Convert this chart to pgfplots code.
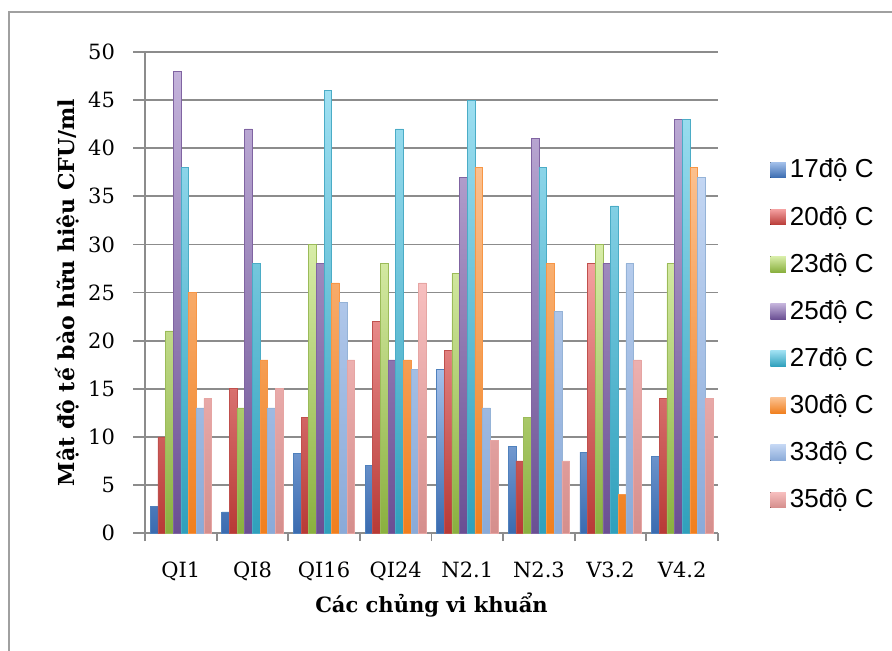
\documentclass[border=0pt]{standalone}
\usepackage{pgfplots}
\usepackage{pgfplotstable}
\pgfplotsset{compat=1.18}
\usepackage{fontspec}
\setmainfont{DejaVu Serif}
\newfontfamily\legfont{Liberation Sans}
\definecolor{gridc}{HTML}{8C8C8C}
\definecolor{framec}{HTML}{A0A0A0}
\definecolor{t1}{HTML}{A3C0EA}\definecolor{b1}{HTML}{3A6BB0}\definecolor{d1}{HTML}{4F81BD}
\definecolor{t2}{HTML}{F4A0A0}\definecolor{b2}{HTML}{B83A36}\definecolor{d2}{HTML}{C0504D}
\definecolor{t3}{HTML}{D8EDA8}\definecolor{b3}{HTML}{8AB03F}\definecolor{d3}{HTML}{9BBB59}
\definecolor{t4}{HTML}{C4B3DB}\definecolor{b4}{HTML}{6A4F93}\definecolor{d4}{HTML}{8064A2}
\definecolor{t5}{HTML}{9FE0F2}\definecolor{b5}{HTML}{2FA0BC}\definecolor{d5}{HTML}{4BACC6}
\definecolor{t6}{HTML}{FBC08E}\definecolor{b6}{HTML}{F07F1E}\definecolor{d6}{HTML}{F79646}
\definecolor{t7}{HTML}{C3D6F3}\definecolor{b7}{HTML}{8AAAD8}\definecolor{d7}{HTML}{95B3D7}
\definecolor{t8}{HTML}{F7BFBF}\definecolor{b8}{HTML}{D58E8C}\definecolor{d8}{HTML}{E6A5A3}
\pgfplotstableread{
x s17 s20 s23 s25 s27 s30 s33 s35
0 2.8 10 21 48 38 25 13 14
1 2.2 15 13 42 28 18 13 15
2 8.3 12 30 28 46 26 24 18
3 7.0 22 28 18 42 18 17 26
4 17 19 27 37 45 38 13 9.6
5 9 7.5 12 41 38 28 23 7.5
6 8.4 28 30 28 34 4 28 18
7 8.0 14 28 43 43 38 37 14
}\datatable
\begin{document}
\begin{tikzpicture}
\useasboundingbox (0,0) rectangle (446pt,325pt);
\begin{scope}
\clip (0,0) rectangle (446pt,325pt);
\draw[framec, line width=0.7pt] (4.5pt,-20pt) rectangle (480pt,319pt);
\end{scope}
\begin{axis}[
  at={(72.5pt,58.5pt)}, anchor=south west,
  width=286.5pt, height=240.5pt, scale only axis,
  ybar=0pt, bar width=0.107,
  xmin=-0.5, xmax=7.5, ymin=0, ymax=50,
  axis x line*=bottom, axis y line*=left,
  axis line style={gridc, line width=0.9pt},
  xtick={0,...,7},
  xticklabels={QI1,QI8,QI16,QI24,N2.1,N2.3,V3.2,V4.2},
  major x tick style={draw=none},
  minor xtick={-0.5,0.5,...,7.5},
  minor x tick style={gridc, line width=0.9pt},
  minor tick length=4pt,
  ytick={0,5,...,50},
  major tick length=6pt,
  y tick style={gridc, line width=0.9pt},
  tick align=outside,
  ymajorgrids,
  major grid style={gridc, line width=0.9pt},
  /pgf/number format/assume math mode=true,
  tick label style={font=\fontsize{10.5}{12}\selectfont},
  xticklabel style={yshift=-5pt},
  yticklabel style={xshift=-5.5pt},
  xlabel={\bfseries Các chủng vi khuẩn},
  ylabel={\bfseries Mật độ tế bào hữu hiệu CFU/ml},
  xlabel style={font=\fontsize{10.5}{12}\selectfont, yshift=1pt},
  ylabel style={font=\fontsize{11}{12}\selectfont, yshift=-2.5pt},
  legend style={at={(1.08,0.795)}, anchor=north west, draw=none, fill=none,
    font=\legfont\fontsize{13}{14}\selectfont, row sep=8.6pt,
    legend cell align=left},
  legend image code/.code={\fill[#1,draw=none] (0pt,-3.9pt) rectangle (7.8pt,3.9pt);},
  every axis plot/.append style={line width=0.3pt},
]
\addplot[top color=t1, bottom color=b1, draw=d1] table[x=x,y=s17]{\datatable};
\addplot[top color=t2, bottom color=b2, draw=d2] table[x=x,y=s20]{\datatable};
\addplot[top color=t3, bottom color=b3, draw=d3] table[x=x,y=s23]{\datatable};
\addplot[top color=t4, bottom color=b4, draw=d4] table[x=x,y=s25]{\datatable};
\addplot[top color=t5, bottom color=b5, draw=d5] table[x=x,y=s27]{\datatable};
\addplot[top color=t6, bottom color=b6, draw=d6] table[x=x,y=s30]{\datatable};
\addplot[top color=t7, bottom color=b7, draw=d7] table[x=x,y=s33]{\datatable};
\addplot[top color=t8, bottom color=b8, draw=d8] table[x=x,y=s35]{\datatable};
\legend{17độ C,20độ C,23độ C,25độ C,27độ C,30độ C,33độ C,35độ C}
\end{axis}
\end{tikzpicture}
\end{document}
